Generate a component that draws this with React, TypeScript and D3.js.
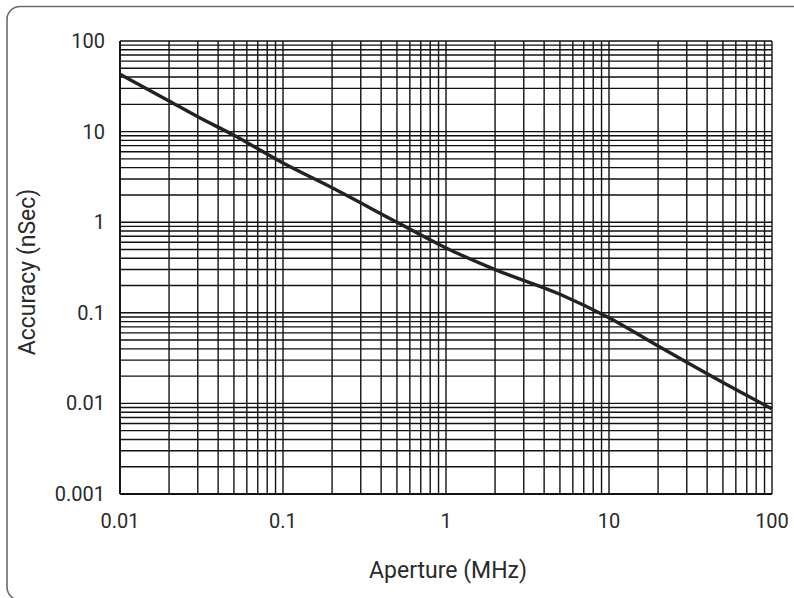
import React from "react";
import * as d3 from "d3";

const apertureMHz = [0.01, 0.02, 0.03, 0.05, 0.1, 0.2, 0.5, 1, 2, 5, 10, 20, 50, 100];
const accuracyNs = [43, 21.8, 14.6, 9.1, 4.5, 2.4, 1.0, 0.52, 0.3, 0.16, 0.088, 0.043, 0.017, 0.0087];
const xTicks = [0.01, 0.1, 1, 10, 100];
const xTickLabels = ["0.01", "0.1", "1", "10", "100"];
const yTicks = [0.001, 0.01, 0.1, 1, 10, 100];
const yTickLabels = ["0.001", "0.01", "0.1", "1", "10", "100"];

const W = 794;
const H = 598;
const L = 120, R = 772, T = 41, B = 494;
const FONT = "Roboto, 'Liberation Sans', sans-serif";

function minorValues(lo: number, hi: number) {
  const out: number[] = [];
  for (let d = lo; d < hi; d *= 10) {
    for (let k = 1; k <= 9; k++) out.push(d * k);
  }
  out.push(hi);
  return out;
}

export default function App() {
  const x = d3.scaleLog().domain([0.01, 100]).range([L, R]);
  const y = d3.scaleLog().domain([0.001, 100]).range([B, T]);
  const xGrid = minorValues(0.01, 100);
  const yGrid = minorValues(0.001, 100);
  const pts = apertureMHz.map((v, i) => [x(v), y(accuracyNs[i])] as [number, number]);
  const line = d3.line().curve(d3.curveMonotoneX)(pts) || "";

  return (
    <svg width={W} height={H} style={{ position: "absolute", left: 0, top: 0, background: "#fff" }}>
      <rect x={7} y={6.5} width={820} height={593.5} rx={13} ry={13} fill="none" stroke="#6b6b6b" strokeWidth={1.6} />
      <g stroke="#111" strokeWidth={1.4}>
        {xGrid.map((v, i) => (
          <line key={"xg" + i} x1={x(v)} x2={x(v)} y1={T} y2={B} />
        ))}
        {yGrid.map((v, i) => (
          <line key={"yg" + i} x1={L} x2={R} y1={y(v)} y2={y(v)} />
        ))}
      </g>
      <line x1={L} x2={R} y1={B} y2={B} stroke="#111" strokeWidth={1.8} />
      <line x1={L} x2={L} y1={T} y2={B} stroke="#111" strokeWidth={1.8} />
      <path d={line} fill="none" stroke="#222" strokeWidth={3.4} strokeLinejoin="round" />
      <g fontFamily={FONT} fontSize={20} fill="#2a2a2a">
        {yTicks.map((v, i) => (
          <text key={"yt" + i} x={105} y={y(v)} textAnchor="end" dominantBaseline="central">
            {yTickLabels[i]}
          </text>
        ))}
        {xTicks.map((v, i) => (
          <text key={"xt" + i} x={x(v)} y={528} textAnchor="middle">
            {xTickLabels[i]}
          </text>
        ))}
      </g>
      <text x={448} y={578} textAnchor="middle" fontFamily={FONT} fontSize={23} fill="#2a2a2a">
        Aperture (MHz)
      </text>
      <text
        transform={`translate(35,272) rotate(-90)`}
        textAnchor="middle"
        fontFamily={FONT}
        fontSize={23}
        fill="#2a2a2a"
      >
        Accuracy (nSec)
      </text>
    </svg>
  );
}
